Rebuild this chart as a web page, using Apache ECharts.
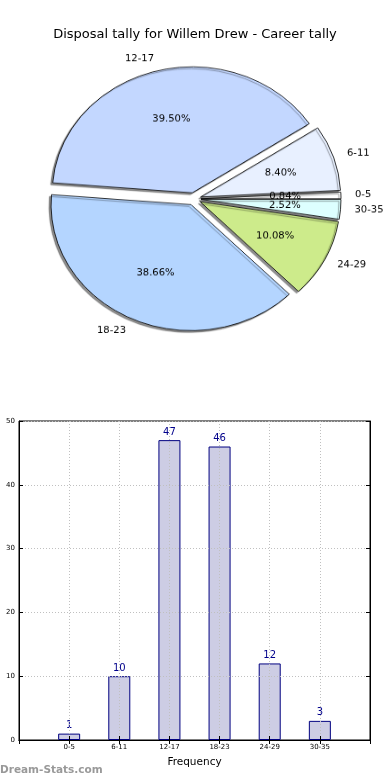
<!DOCTYPE html>
<html><head><meta charset="utf-8">
<script src="https://cdn.jsdelivr.net/npm/echarts@6/dist/echarts.min.js"></script>
<style>
html,body{margin:0;padding:0;background:#fff;width:390px;height:780px;overflow:hidden}
#main{position:absolute;left:0;top:0;width:390px;height:780px}
#pie{position:absolute;left:0;top:0;width:390px;height:390px;transform:scaleY(0.9);transform-origin:0 0}
</style></head><body>
<div id="main"></div><div id="pie"></div>
<script>
const titleText = 'Disposal tally for Willem Drew - Career tally';
const categories = ['0-5', '6-11', '12-17', '18-23', '24-29', '30-35'];
const counts = [1, 10, 47, 46, 12, 3];
const sliceColors = ['#ffffff', '#e8f0ff', '#c3d7ff', '#b4d5ff', '#cdeb8b', '#ddffff'];
const yTickLabels = ['0', '10', '20', '30', '40', '50'];
const xAxisName = 'Frequency';
const watermark = 'Dream-Stats.com';

const FONT = 'DejaVu Sans';

// ---------- pie (elliptical via vertical CSS scale) ----------
const pieChart = echarts.init(document.getElementById('pie'), null, {renderer: 'canvas'});
const R = 140, OFF = 7;
const pieData = categories.map((c, i) => ({
  name: c, value: counts[i], selected: true,
  itemStyle: {color: sliceColors[i]}
}));
const pctData = categories.map((c, i) => ({name: c, value: counts[i], selected: true}));
pieChart.setOption({
  animation: false,
  series: [
    {
      type: 'pie', center: [194, 221], radius: [0, R], startAngle: 0, clockwise: false,
      selectedMode: 'multiple', selectedOffset: OFF, avoidLabelOverlap: false,
      silent: true, minShowLabelAngle: 0,
      itemStyle: {borderColor: '#000', borderWidth: 0.8, shadowColor: 'rgba(0,0,0,0.45)', shadowBlur: 1, shadowOffsetX: -2, shadowOffsetY: 2},
      select: {itemStyle: {borderColor: '#000', borderWidth: 0.8}},
      emphasis: {disabled: true},
      label: {show: true, position: 'outside', formatter: '{b}', color: '#000', fontFamily: FONT, fontSize: 10, distanceToLabelLine: 0},
      labelLine: {show: false, length: 14, length2: 0},
      labelLayout: {hideOverlap: false},
      data: pieData
    },
    {
      type: 'pie', center: [194, 221], radius: [0, R * 1.16], startAngle: 0, clockwise: false,
      selectedMode: 'multiple', selectedOffset: OFF, avoidLabelOverlap: false,
      silent: true, z: 3, minShowLabelAngle: 0,
      itemStyle: {color: 'rgba(0,0,0,0)', borderWidth: 0},
      select: {itemStyle: {color: 'rgba(0,0,0,0)', borderWidth: 0}},
      emphasis: {disabled: true},
      label: {show: true, position: 'inside', color: '#000', fontFamily: FONT, fontSize: 10, overflow: 'none',
        formatter: p => p.percent.toFixed(2) + '%'},
      labelLine: {show: false},
      labelLayout: {hideOverlap: false},
      data: pctData
    }
  ]
});

// ---------- title + bar chart ----------
const main = echarts.init(document.getElementById('main'), null, {renderer: 'canvas'});
const xCats = [''].concat(categories, ['']);
const barVals = [null].concat(counts, [null]);
const dotted = {show: true, lineStyle: {color: '#c0c0c0', width: 1, type: [1, 2]}};
main.setOption({
  animation: false,
  title: {text: titleText, left: 'center', top: 23, textStyle: {fontFamily: FONT, fontSize: 13, fontWeight: 'normal', color: '#000'}},
  grid: {left: 19, right: 20, top: 421, bottom: 40, show: true, borderColor: '#000', borderWidth: 1, backgroundColor: 'transparent', containLabel: false, outerBoundsMode: 'none'},
  xAxis: [{
    type: 'category', data: xCats, boundaryGap: false, z: 3,
    axisLine: {lineStyle: {color: '#000'}},
    axisTick: {show: true, inside: true, length: 4, lineStyle: {color: '#000'}},
    axisLabel: {fontFamily: FONT, fontSize: 7, color: '#000', margin: 4, interval: 0},
    splitLine: dotted,
    name: xAxisName, nameLocation: 'middle', nameGap: 17,
    nameTextStyle: {fontFamily: FONT, fontSize: 10.5, color: '#000'}
  }, {
    type: 'category', data: xCats, boundaryGap: false, position: 'top', z: 3,
    axisLine: {lineStyle: {color: '#000'}},
    axisTick: {show: true, inside: true, length: 4, lineStyle: {color: '#000'}},
    axisLabel: {show: false}, splitLine: {show: false}
  }],
  yAxis: [{
    type: 'value', min: 0, max: 50, interval: 10, z: 3,
    axisLine: {show: true, lineStyle: {color: '#000'}},
    axisTick: {show: true, inside: true, length: 4, lineStyle: {color: '#000'}},
    axisLabel: {fontFamily: FONT, fontSize: 7, color: '#000', margin: 4,
      formatter: v => yTickLabels[Math.round(v / 10)]},
    splitLine: dotted
  }, {
    type: 'value', min: 0, max: 50, interval: 10, position: 'right', z: 3,
    axisLine: {show: true, lineStyle: {color: '#000'}},
    axisTick: {show: true, inside: true, length: 4, lineStyle: {color: '#000'}},
    axisLabel: {show: false}, splitLine: {show: false}
  }],
  series: [{
    type: 'bar', data: barVals, barWidth: 22, silent: true,
    itemStyle: {color: '#cdcde4', borderColor: '#000080', borderWidth: 1},
    label: {show: true, position: 'top', distance: 3, color: '#00008b', fontFamily: FONT, fontSize: 10},
    emphasis: {disabled: true}
  }],
  graphic: [{
    type: 'text', left: 0, top: 765,
    style: {text: watermark, fill: '#999', font: 'bold 10.5px "DejaVu Sans"'}
  }]
});
</script>
</body></html>
